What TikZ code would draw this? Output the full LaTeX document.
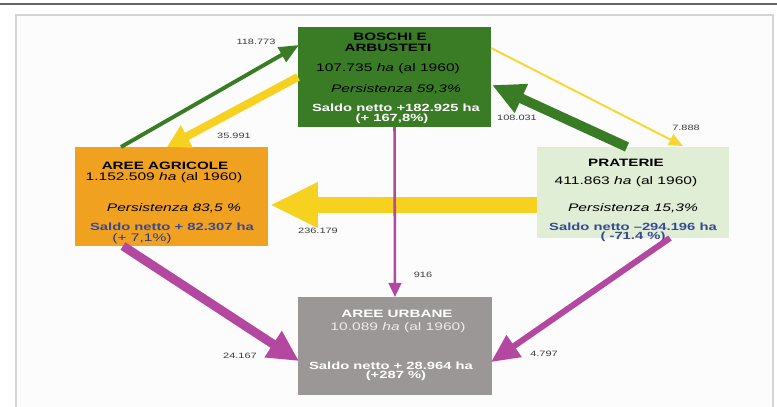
\documentclass[tikz,border=0pt]{standalone}
\usepackage{fontspec}
\setmainfont{Liberation Sans}[FakeStretch=1.42]
\usetikzlibrary{arrows.meta, calc}
\definecolor{bosco}{RGB}{58,124,38}
\definecolor{agricolo}{RGB}{241,161,32}
\definecolor{prato}{RGB}{223,238,212}
\definecolor{urbano}{RGB}{156,151,151}
\definecolor{giallo}{RGB}{247,209,32}
\definecolor{viola}{RGB}{180,72,160}
\definecolor{saldoblu}{RGB}{55,72,150}
\definecolor{numgray}{RGB}{60,60,60}
\definecolor{cornice}{RGB}{212,212,212}
\tikzstyle{box} = [rectangle, minimum width=4.825cm, inner sep=0pt, outer sep=0pt]
\tikzstyle{txt} = [inner sep=0pt, font=\fontsize{7.8}{9}\selectfont]
\tikzstyle{hdr} = [inner sep=0pt, font=\fontsize{7.6}{9}\selectfont\bfseries]
\tikzstyle{saldo} = [inner sep=0pt, font=\fontsize{7.4}{9}\selectfont\bfseries]
\tikzstyle{num} = [inner sep=0pt, text=numgray, font=\fontsize{5.5}{6}\selectfont]
\tikzstyle{flow} = [line cap=butt]

\begin{document}
\begin{tikzpicture}[x=0.025cm, y=-0.025cm]
  \useasboundingbox (0,0) rectangle (777,407);
  \fill [white] (0,0) rectangle (777,407);
  \draw [black!60, line width=1.1pt] (0,4) -- (777,4);
  \fill [black!1] (16,15) rectangle (773,407);
  \draw [cornice, line width=1.6pt] (16,407) -- (16,15) -- (773,15) -- (773,407);

  % boxes
  \node (bosc) [box, fill=bosco, minimum height=2.5cm] at (394.5,77) {};
  \node (agri) [box, fill=agricolo, minimum height=2.475cm] at (171.5,196.5) {};
  \node (prat) [box, fill=prato, minimum width=4.8cm, minimum height=2.275cm] at (633,192.5) {};
  \node (urb) [box, fill=urbano, minimum width=4.85cm, minimum height=2.45cm] at (395,346) {};

  % texts
  \node (boscName1) [hdr] at (390,37) {BOSCHI E};
  \node (boscName2) [hdr] at (388,48) {ARBUSTETI};
  \node (boscArea) [txt] at (388,69) {107.735 \textit{ha} (al 1960)};
  \node (boscPers) [txt] at (396,89) {\textit{Persistenza 59,3\%}};
  \node (boscSaldo) [saldo, text=white] at (396,108) {Saldo netto +182.925 ha};
  \node (boscPerc) [saldo, text=white] at (392,119) {(+ 167,8\%)};

  \node (agriName) [hdr] at (165,166) {AREE AGRICOLE};
  \node (agriArea) [txt] at (164,177.5) {1.152.509 \textit{ha} (al 1960)};
  \node (agriPers) [txt] at (174,208) {\textit{Persistenza 83,5 \%}};
  \node (agriSaldo) [saldo, text=saldoblu] at (172,227) {Saldo netto + 82.307 ha};
  \node (agriPerc) [txt, text=saldoblu!80!black] at (142,239) {(+ 7,1\%)};

  \node (pratName) [hdr] at (626,163) {PRATERIE};
  \node (pratArea) [txt] at (626,182) {411.863 \textit{ha} (al 1960)};
  \node (pratPers) [txt] at (633,208) {\textit{Persistenza 15,3\%}};
  \node (pratSaldo) [saldo, text=saldoblu] at (633,227) {Saldo netto --294.196 ha};
  \node (pratPerc) [saldo, text=saldoblu] at (633,237) {( -71.4 \%)};

  \node (urbName) [hdr, text=white] at (397,314) {AREE URBANE};
  \node (urbArea) [txt, text=black!8] at (398,328) {10.089 \textit{ha} (al 1960)};
  \node (urbSaldo) [saldo, text=white] at (391,366) {Saldo netto + 28.964 ha};
  \node (urbPerc) [saldo, text=white] at (396,376) {(+287 \%)};

  % flows
  \draw [flow, bosco, line width=2.8pt, -{Triangle[length=14pt, width=11.5pt]}]
    ($(agri.north west)+(46,0)$) -- ($(bosc.north west)+(1,18)$);
  \draw [flow, giallo, line width=5.7pt, -{Triangle[length=16pt, width=17pt]}]
    (bosc.west) -- ($(agri.north west)+(92,0)$);
  \draw [flow, giallo!90!white, line width=1.4pt, -{Triangle[length=10pt, width=8.5pt]}]
    ($(bosc.north east)+(0,21)$) -- ($(prat.north)+(50,-1)$);
  \draw [flow, bosco, line width=7pt, -{Triangle[length=23pt, width=21pt]}]
    ($(prat.north)+(-6,0)$) -- ($(bosc.east)+(1,8)$);
  \draw [flow, giallo, line width=11.3pt, -{Triangle[length=34pt, width=30pt]}]
    ($(prat.west)+(0,12.5)$) -- ($(agri.east)+(2,8.5)$);
  \draw [flow, viola, line width=1.8pt, -{Triangle[length=10pt, width=9pt]}]
    (bosc.south) -- (urb.north);
  \draw [flow, viola, line width=6.4pt, -{Triangle[length=22pt, width=21pt]}]
    ($(agri.south west)+(48,0)$) -- ($(urb.west)+(1,15)$);
  \draw [flow, viola, line width=4.3pt, -{Triangle[length=20pt, width=18pt]}]
    ($(prat.south)+(37,0)$) -- ($(urb.east)+(-1,16)$);

  % flow labels
  \node (n118) [num] at (256,42) {118.773};
  \node (n35) [num] at (234,136) {35.991};
  \node (n7) [num] at (686,128) {7.888};
  \node (n108) [num] at (517,118) {108.031};
  \node (n236) [num] at (318,231) {236.179};
  \node (n916) [num] at (423,275) {916};
  \node (n24) [num] at (240,356) {24.167};
  \node (n4) [num] at (544,354) {4.797};
\end{tikzpicture}
\end{document}
